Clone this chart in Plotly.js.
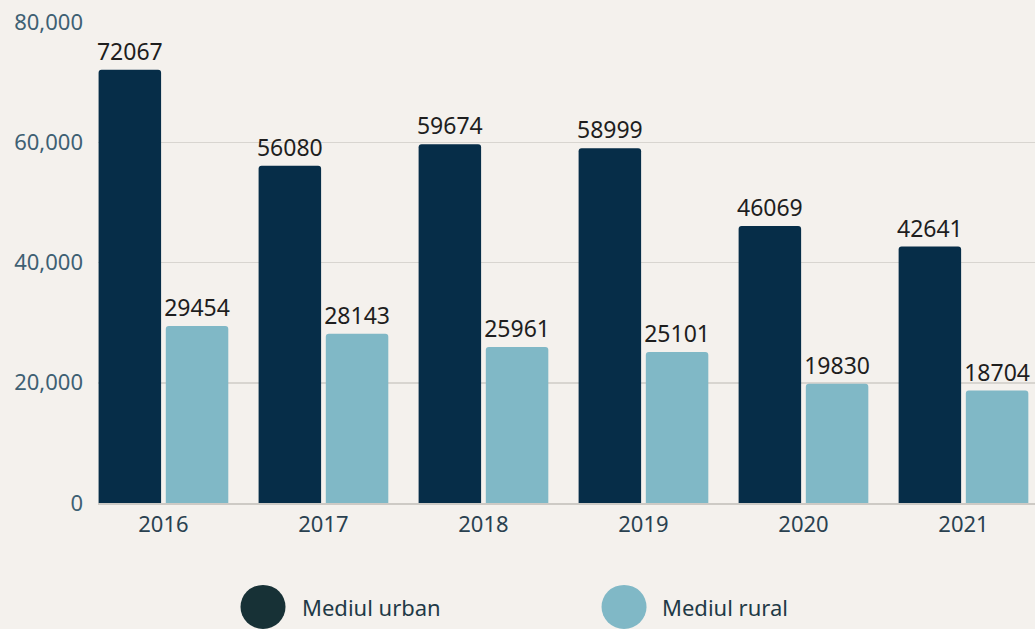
<!DOCTYPE html>
<html>
<head>
<meta charset="utf-8">
<script src="https://cdn.plot.ly/plotly-3.0.1.min.js"></script>
<style>
html,body{margin:0;padding:0;background:#f4f1ed;}
#chart{width:1035px;height:629px;}
</style>
</head>
<body>
<div id="chart"></div>
<script>
var years = ['2016','2017','2018','2019','2020','2021'];
var urbanName = 'Mediul urban';
var ruralName = 'Mediul rural';
var urbanValues = [72067, 56080, 59674, 58999, 46069, 42641];
var ruralValues = [29454, 28143, 25961, 25101, 19830, 18704];
var yTicks = [0, 20000, 40000, 60000, 80000];

var urbanColor = '#062d48';
var ruralColor = '#80b8c6';
var labelFont = {family: 'Noto Sans, sans-serif', size: 23, color: '#1e1e1e'};

var traces = [
  {type: 'bar', name: urbanName, x: years, y: urbanValues,
   text: urbanValues.map(String), textposition: 'outside', cliponaxis: false, constraintext: 'none',
   textfont: labelFont, marker: {color: urbanColor}, showlegend: false, hoverinfo: 'x+y'},
  {type: 'bar', name: ruralName, x: years, y: ruralValues,
   text: ruralValues.map(String), textposition: 'outside', cliponaxis: false, constraintext: 'none',
   textfont: labelFont, marker: {color: ruralColor}, showlegend: false, hoverinfo: 'x+y'}
];

var legendY = -0.216;
var layout = {
  width: 1035, height: 629,
  paper_bgcolor: '#f4f1ed', plot_bgcolor: '#f4f1ed',
  margin: {l: 98, r: 0, t: 22, b: 126},
  barmode: 'group', bargap: 0.16, bargroupgap: 0.07, barcornerradius: 3,
  font: {family: 'Noto Sans, sans-serif'},
  xaxis: {
    type: 'category', range: [-0.409, 5.447],
    showgrid: false, zeroline: false,
    showline: true, linecolor: '#cdcac5', linewidth: 2,
    ticks: '', ticklabelstandoff: 1,
    tickfont: {size: 22, color: '#2a4150', family: 'Noto Sans, sans-serif'}
  },
  yaxis: {
    range: [0, 80000], tickvals: yTicks, tickformat: ',d',
    showgrid: true, gridcolor: '#d8d5d0', gridwidth: 1.5,
    zeroline: false, showline: false, ticks: '', ticklabelstandoff: 14,
    tickfont: {size: 22, color: '#3e6073', family: 'Noto Sans, sans-serif'}
  },
  shapes: [
    {type: 'circle', xref: 'paper', yref: 'paper', xsizemode: 'pixel', ysizemode: 'pixel',
     xanchor: 0.1761, yanchor: legendY, x0: -22.5, x1: 22.5, y0: -22, y1: 22,
     fillcolor: '#173136', line: {width: 0}},
    {type: 'circle', xref: 'paper', yref: 'paper', xsizemode: 'pixel', ysizemode: 'pixel',
     xanchor: 0.5614, yanchor: legendY, x0: -22.5, x1: 22.5, y0: -22, y1: 22,
     fillcolor: ruralColor, line: {width: 0}}
  ],
  annotations: [
    {xref: 'paper', yref: 'paper', x: 0.2156, y: legendY, xanchor: 'left', yanchor: 'middle',
     text: urbanName, showarrow: false, font: {size: 22, color: '#1f3a47', family: 'Noto Sans, sans-serif'}},
    {xref: 'paper', yref: 'paper', x: 0.600, y: legendY, xanchor: 'left', yanchor: 'middle',
     text: ruralName, showarrow: false, font: {size: 22, color: '#1f3a47', family: 'Noto Sans, sans-serif'}}
  ]
};

Plotly.newPlot('chart', traces, layout, {displayModeBar: false, staticPlot: true});
</script>
</body>
</html>
